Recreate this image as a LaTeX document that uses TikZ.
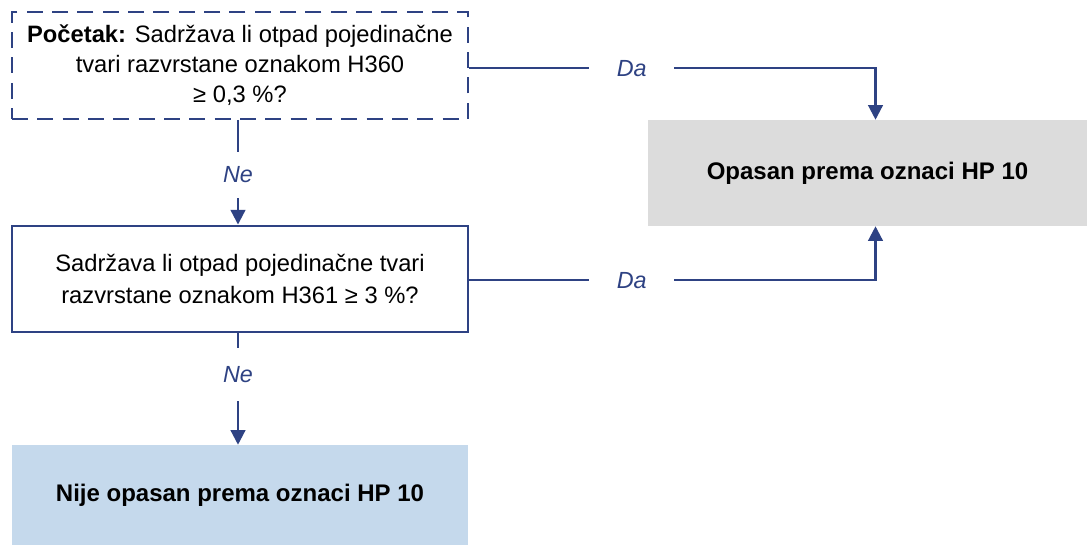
\documentclass[tikz,border=0pt]{standalone}
\usepackage{fontspec}
\setmainfont{Liberation Sans}
\usetikzlibrary{positioning,arrows.meta}
\definecolor{navy}{HTML}{2E4283}
\definecolor{greybox}{HTML}{DCDCDC}
\definecolor{bluebox}{HTML}{C5D9EC}
\tikzset{
  every node/.style={text=black, font=\fontsize{17.8}{22.5}\selectfont, align=center, inner sep=0pt},
  question/.style={draw=navy, line width=1.7pt, minimum width=342pt, minimum height=80pt},
  result/.style={minimum width=342pt, minimum height=76pt, font=\fontsize{18}{22.5}\selectfont\bfseries},
  line/.style={draw=navy, line width=1.7pt, -{Triangle[length=11pt, width=11pt]}},
  answer/.style={fill=white, text=navy, font=\fontsize{17.5}{20}\selectfont\itshape}
}

\begin{document}
\begin{tikzpicture}[x=0.75pt, y=-0.75pt]
  \useasboundingbox (0,0) rectangle (1087,545);
  % Nodes
  \node (start) [question, dash pattern=on 12pt off 7pt] at (240,65.5) {
    \textbf{Početak:} Sadržava li otpad pojedinačne\\
    tvari razvrstane oznakom H360\\
    ≥ 0,3 \%?
  };
  \node (second) [question, font=\fontsize{17.8}{24}\selectfont] at (240,279) {
    Sadržava li otpad pojedinačne tvari\\
    razvrstane oznakom H361 ≥ 3 \%?
  };
  \node (hazard) [result, fill=greybox, minimum width=329pt, minimum height=79.5pt] at (867.5,173) {Opasan prema oznaci HP 10};
  \node (nohazard) [result, fill=bluebox, minimum height=75pt] at (240,495) {Nije opasan prema oznaci HP 10};

  \draw[line] ([yshift=-2pt]start.east) -| node[answer, pos=0.2, minimum width=64pt, minimum height=20pt] {Da} ([xshift=6pt]hazard.north);
  \draw[line] ([yshift=-1pt]second.east) -| node[answer, pos=0.2, minimum width=64pt, minimum height=20pt] {Da} ([xshift=6pt]hazard.south);
  \draw[line] ([xshift=-1.5pt]start.south) -- node[answer, minimum width=30pt, minimum height=34pt, yshift=-2pt] {Ne} ([xshift=-1.5pt]second.north);
  \draw[line] ([xshift=-1.5pt]second.south) -- node[answer, pos=0.37, minimum width=30pt, minimum height=40pt] {Ne} ([xshift=-1.5pt]nohazard.north);
\end{tikzpicture}
\end{document}
